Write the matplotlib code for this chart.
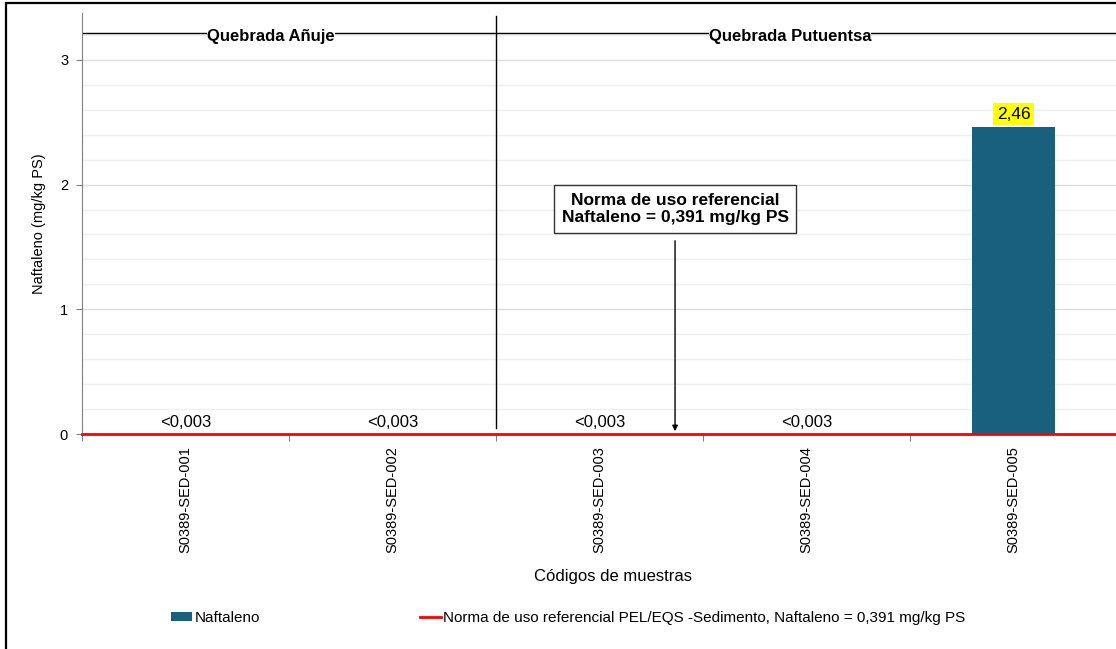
import matplotlib
matplotlib.use("Agg")
import matplotlib.pyplot as plt
from matplotlib.patches import Patch, Rectangle
from matplotlib.lines import Line2D

# ---- data ----
categories = ["S0389-SED-001", "S0389-SED-002", "S0389-SED-003", "S0389-SED-004", "S0389-SED-005"]
naftaleno = [0.0, 0.0, 0.0, 0.0, 2.46]
value_labels = ["<0,003", "<0,003", "<0,003", "<0,003", "2,46"]
norma_line = [0.0, 0.0, 0.0, 0.0, 0.0]   # red reference line as drawn in the picture
groups = ["Quebrada Añuje", "Quebrada Putuentsa"]
y_ticks = [0, 1, 2, 3]

plt.rcParams['font.family'] = ['Liberation Sans', 'DejaVu Sans']

W, H = 1116, 649
fig = plt.figure(figsize=(W / 100, H / 100), dpi=100)
ax = fig.add_axes([82 / W, (H - 434) / H, 1035 / W, 421 / H])

x = list(range(len(categories)))
bar_color = '#19607F'
ax.bar(x, naftaleno, width=0.4, color=bar_color, zorder=3)

ax.set_xlim(-0.5, len(categories) - 0.5)
ax.set_ylim(0, 3.376)

# grid
ax.set_yticks(y_ticks)
ax.set_yticks([i * 0.2 for i in range(0, 17)], minor=True)
ax.yaxis.grid(True, which='minor', color='#efefef', lw=1, zorder=0)
ax.yaxis.grid(True, which='major', color='#dcdcdc', lw=1, zorder=0)
ax.tick_params(axis='y', which='minor', length=0)
ax.tick_params(axis='y', which='major', length=4, color='#808080', labelsize=10.5, pad=6)

# x ticks at boundaries, labels at centres
ax.set_xticks([i - 0.5 for i in range(len(categories) + 1)])
ax.set_xticklabels([])
ax.set_xticks(x, minor=True)
ax.set_xticklabels(categories, minor=True, rotation=90, fontsize=10.5)
ax.tick_params(axis='x', which='minor', length=0, pad=9)
ax.tick_params(axis='x', which='major', length=5, color='#808080')

for s in ['top', 'right']:
    ax.spines[s].set_visible(False)
ax.spines['left'].set_color('#808080')
ax.spines['bottom'].set_color('#808080')

# red norm line
ax.plot([-0.5] + x + [len(categories) - 0.5],
        [norma_line[0]] + norma_line + [norma_line[-1]],
        color='#ff0000', lw=2, zorder=4, clip_on=False)

# value labels
for xi, v, lab in zip(x, naftaleno, value_labels):
    if v > 0:
        ax.text(xi, v + 0.045, lab, ha='center', va='bottom', fontsize=12.5,
                bbox=dict(boxstyle='square,pad=0.2', fc='#ffff00', ec='none'), zorder=5)
    else:
        ax.text(xi, 0.03, lab, ha='center', va='bottom', fontsize=12, zorder=5)

# group headers
ax.axhline(3.216, color='black', lw=1, zorder=2)
ax.plot([1.5, 1.5], [0.05, 3.35], color='black', lw=1, zorder=2)
ax.text(0.413, 3.19, groups[0], ha='center', va='center', fontsize=12, fontweight='bold',
        bbox=dict(boxstyle='square,pad=0.0', fc='white', ec='none'), zorder=3)
ax.text(2.92, 3.19, groups[1], ha='center', va='center', fontsize=12, fontweight='bold',
        bbox=dict(boxstyle='square,pad=0.0', fc='white', ec='none'), zorder=3)

# annotation box with arrow
ax.annotate('', xy=(2.365, 0.0), xytext=(2.365, 1.572),
            arrowprops=dict(arrowstyle='-|>', color='black', lw=1, mutation_scale=8), zorder=6)
ax.text(2.365, 1.804, 'Norma de uso referencial\nNaftaleno = 0,391 mg/kg PS',
        ha='center', va='center', fontsize=12.5, fontweight='bold', linespacing=1.2,
        bbox=dict(boxstyle='square,pad=0.45', fc='white', ec='#333333', lw=1), zorder=6)

ax.set_ylabel('Naftaleno (mg/kg PS)', fontsize=10.5, labelpad=10)
ax.set_xlabel('Códigos de muestras', fontsize=12)
ax.xaxis.set_label_coords((613 - 82) / 1035, -(569 - 434) / 421)

# legend
handles = [Patch(facecolor=bar_color, edgecolor='none'),
           Line2D([0], [0], color='#ff0000', lw=2)]
labels = ['Naftaleno',
          'Norma de uso referencial PEL/EQS -Sedimento, Naftaleno = 0,391 mg/kg PS']
fig.legend(handles, labels, loc='center left', bbox_to_anchor=(163 / W, 1 - 618 / H),
           ncol=2, frameon=False, fontsize=11, borderpad=0, handlelength=1.4,
           handleheight=0.5, handletextpad=0.15, columnspacing=10.47)

# outer frame
fig.patches.append(Rectangle((6 / W, -0.1), 1.2, 1.1 - 3 / H, transform=fig.transFigure,
                             fill=False, ec='black', lw=1.6, clip_on=False))

fig.savefig('out.png', dpi=100)
